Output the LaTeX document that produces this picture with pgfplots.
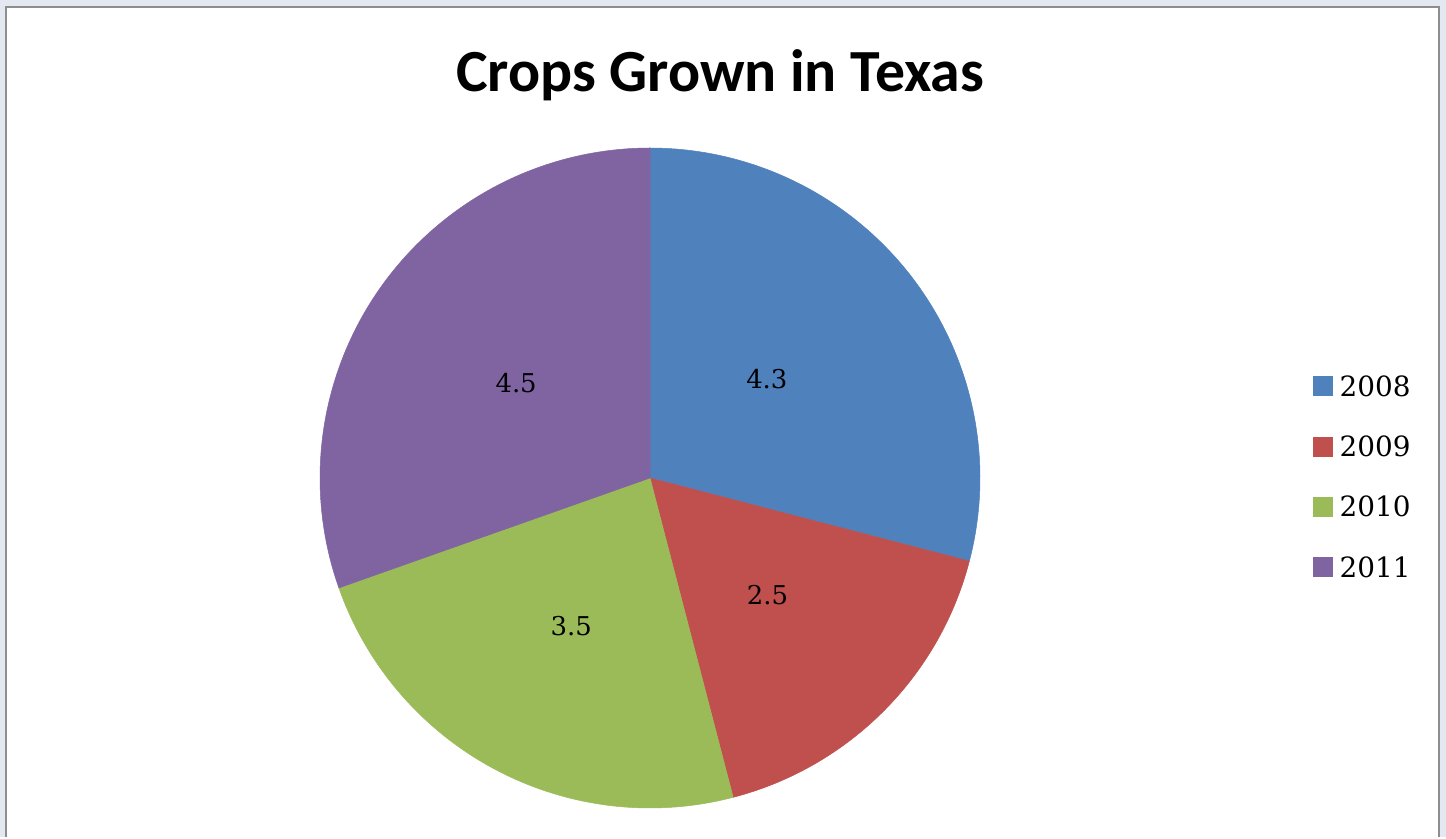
\documentclass[border=0pt]{standalone}
\usepackage{pgfplots}
\pgfplotsset{compat=1.18}
\usepackage{fontspec}
\setmainfont{DejaVu Serif}
\newfontfamily\titlefont{Carlito}
\definecolor{c08}{HTML}{4F81BD}
\definecolor{c09}{HTML}{C0504D}
\definecolor{c10}{HTML}{9BBB59}
\definecolor{c11}{HTML}{8064A2}
\definecolor{bgc}{HTML}{E4E8F1}
\definecolor{frm}{HTML}{8E8E8E}
\begin{document}
\begin{tikzpicture}[x=1bp,y=1bp]
\def\vA{4.3}\def\vB{2.5}\def\vC{3.5}\def\vD{4.5}
\pgfmathsetmacro\tot{\vA+\vB+\vC+\vD}
\pgfmathsetmacro\aA{90}
\pgfmathsetmacro\aB{\aA-360*\vA/\tot}
\pgfmathsetmacro\aC{\aB-360*\vB/\tot}
\pgfmathsetmacro\aD{\aC-360*\vC/\tot}
\pgfmathsetmacro\aE{\aD-360*\vD/\tot}
\pgfmathsetmacro\mA{(\aA+\aB)/2+2.5}
\pgfmathsetmacro\mB{(\aB+\aC)/2}
\pgfmathsetmacro\mC{(\aC+\aD)/2}
\pgfmathsetmacro\mD{(\aD+\aE)/2}
\def\cx{650}\def\cy{359}\def\R{330}
\fill[bgc] (0,0) rectangle (1446,837);
\fill[white] (6,0) rectangle (1439,830);
\draw[frm, line width=2.2bp] (6,0) -- (6,830) -- (1439,830) -- (1439,0);
\begin{axis}[at={(0,0)}, anchor=south west, x=1bp, y=1bp,
  xmin=0, xmax=1446, ymin=0, ymax=837, hide axis, clip=false,
  legend style={at={(axis cs:1310,463)}, anchor=north west, draw=none, fill=none,
    font=\fontsize{28}{28}\selectfont, row sep=40.3bp,
    nodes={inner sep=0pt, text height=20bp, text depth=0bp},
    /tikz/every odd column/.append style={column sep=7bp}},
  legend cell align=left,
  legend image code/.code={\fill[#1] (0bp,-9.5bp) rectangle (19bp,9.5bp);}]
\addplot[fill=c08, draw=c08, line width=0.5bp, domain=\aB:\aA, samples=120, variable=\t]
  ({\cx+\R*cos(\t)},{\cy+\R*sin(\t)}) -- (axis cs:\cx,\cy) -- cycle;
\addlegendentry{2008}
\addplot[fill=c09, draw=c09, line width=0.5bp, domain=\aC:\aB, samples=80, variable=\t]
  ({\cx+\R*cos(\t)},{\cy+\R*sin(\t)}) -- (axis cs:\cx,\cy) -- cycle;
\addlegendentry{2009}
\addplot[fill=c10, draw=c10, line width=0.5bp, domain=\aD:\aC, samples=100, variable=\t]
  ({\cx+\R*cos(\t)},{\cy+\R*sin(\t)}) -- (axis cs:\cx,\cy) -- cycle;
\addlegendentry{2010}
\addplot[fill=c11, draw=c11, line width=0.5bp, domain=\aE:\aD, samples=120, variable=\t]
  ({\cx+\R*cos(\t)},{\cy+\R*sin(\t)}) -- (axis cs:\cx,\cy) -- cycle;
\addlegendentry{2011}
\node[font=\fontsize{26}{26}\selectfont] at (axis cs:{\cx+153*cos(\mA)},{\cy+153*sin(\mA)}) {\vA};
\node[font=\fontsize{26}{26}\selectfont] at (axis cs:{\cx+166*cos(\mB)},{\cy+166*sin(\mB)}) {\vB};
\node[font=\fontsize{26}{26}\selectfont] at (axis cs:{\cx+168*cos(\mC)},{\cy+168*sin(\mC)}) {\vC};
\node[font=\fontsize{26}{26}\selectfont] at (axis cs:{\cx+164*cos(\mD)},{\cy+164*sin(\mD)}) {\vD};
\node[font=\titlefont\bfseries\fontsize{60}{60}\selectfont, anchor=base] at (axis cs:720,745) {Crops Grown in Texas};
\end{axis}
\end{tikzpicture}
\end{document}
